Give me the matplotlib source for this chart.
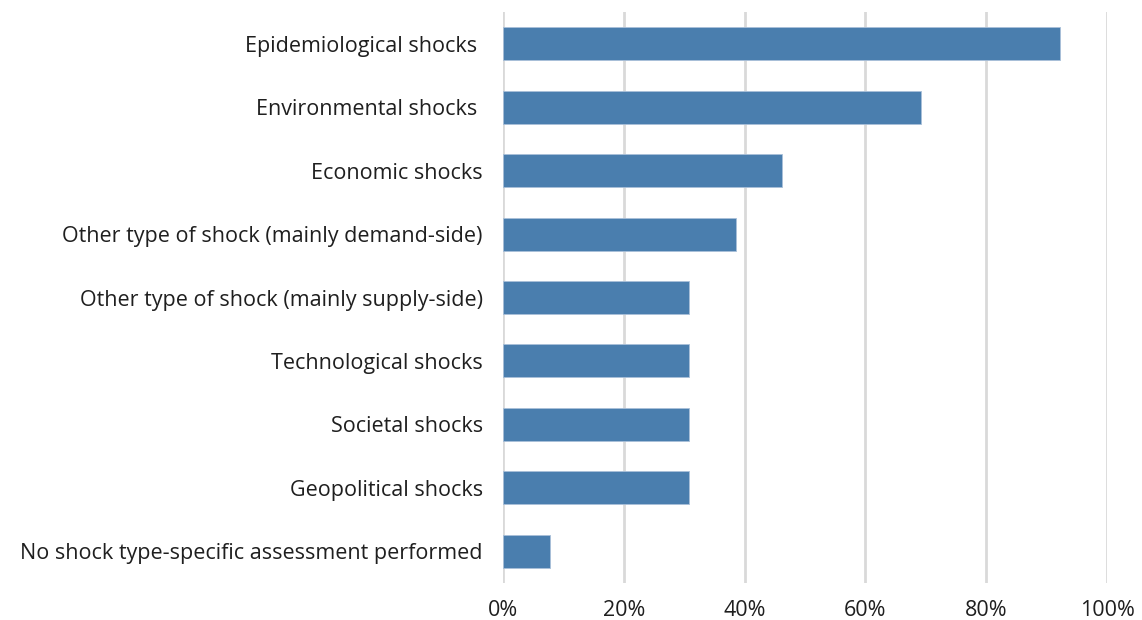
import matplotlib
matplotlib.use("Agg")
import matplotlib.pyplot as plt
from matplotlib.ticker import PercentFormatter

# Data (share of respondents, %)
categories = [
    "Epidemiological shocks ",
    "Environmental shocks ",
    "Economic shocks",
    "Other type of shock (mainly demand-side)",
    "Other type of shock (mainly supply-side)",
    "Technological shocks",
    "Societal shocks",
    "Geopolitical shocks",
    "No shock type-specific assessment performed",
]
values = [92.3, 69.2, 46.2, 38.5, 30.8, 30.8, 30.8, 30.8, 7.7]
xticks = [0, 20, 40, 60, 80, 100]

plt.rcParams['font.family'] = ['Open Sans', 'DejaVu Sans']

fig = plt.figure(figsize=(11.42, 6.2), dpi=100)
ax = fig.add_axes([503 / 1142, 1 - 583 / 620, 604 / 1142, 571 / 620])

y = list(range(len(categories)))
ax.barh(y, values, height=0.52, color='#4a7eae', edgecolor='#a9c0d9', linewidth=0.6, zorder=3)

ax.set_ylim(len(categories) - 0.5, -0.5)
ax.set_xlim(0, 100)
ax.set_yticks(y)
ax.set_yticklabels(categories)
ax.set_xticks(xticks)
ax.xaxis.set_major_formatter(PercentFormatter(decimals=0))

ax.grid(axis='x', color='#d9d9d9', linewidth=2, zorder=0)
for s in ax.spines.values():
    s.set_visible(False)
ax.tick_params(axis='both', length=0, labelsize=15.5, colors='#1f1f1f')
ax.tick_params(axis='y', pad=14.5)
ax.tick_params(axis='x', pad=12)

fig.savefig("out.png", dpi=100)
